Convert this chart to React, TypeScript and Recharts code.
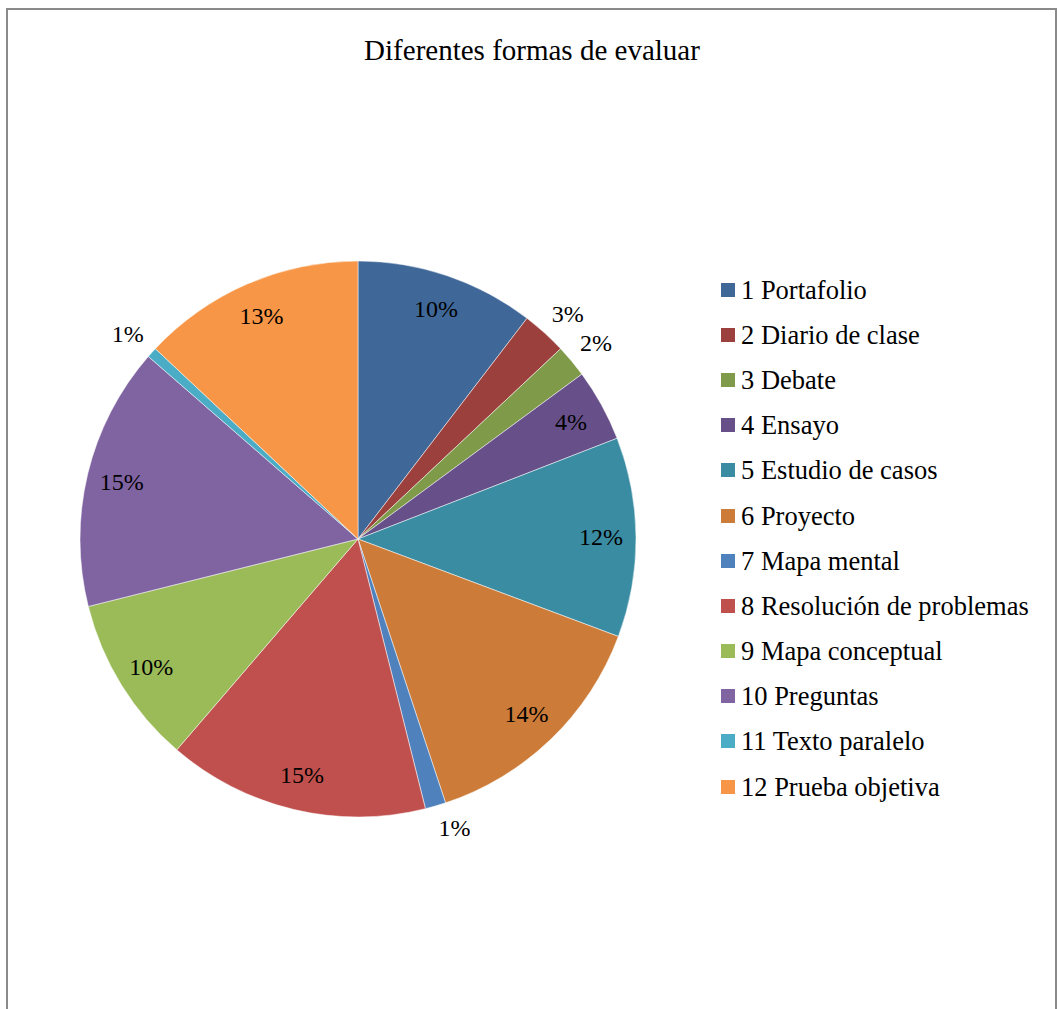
import React from 'react';
import { PieChart, Pie, Cell, Legend } from 'recharts';

const categories = [
  '1 Portafolio',
  '2 Diario de clase',
  '3 Debate',
  '4 Ensayo',
  '5 Estudio de casos',
  '6 Proyecto',
  '7 Mapa mental',
  '8 Resolución de problemas',
  '9 Mapa conceptual',
  '10 Preguntas',
  '11 Texto paralelo',
  '12 Prueba objetiva',
];

const shares = [10.4, 2.6, 1.9, 4.2, 11.6, 14.2, 1.2, 15.2, 9.8, 15.3, 0.6, 13.0];

const colors = [
  '#3f6899', '#9c403e', '#7f9a48', '#67508a', '#3a8ca2', '#cc7b38',
  '#4f81bd', '#c0504d', '#9bbb59', '#8064a2', '#4bacc6', '#f79646',
];

const title = 'Diferentes formas de evaluar';

const data = categories.map((name, i) => ({ name, value: shares[i] }));

const FONT = '"Liberation Serif", "Times New Roman", serif';
const RAD = Math.PI / 180;
const LABEL_SIZE = 24;

const renderLabel = (props: any) => {
  const { cx, cy, midAngle, outerRadius, percent } = props;
  const pct = Math.round(percent * 100);
  const text = `${pct}%`;
  const cos = Math.cos(-midAngle * RAD);
  const sin = Math.sin(-midAngle * RAD);
  let x: number;
  let y: number;
  if (percent * 100 < 3) {
    // outside: box corner nearest the pie sits just past the rim
    const r = outerRadius + 11;
    const w = LABEL_SIZE * (0.5 * String(pct).length + 0.833);
    x = cx + r * cos + Math.sign(cos) * w / 2;
    y = cy + r * sin + Math.sign(sin) * 11;
  } else {
    const r = outerRadius - 35;
    x = cx + r * cos;
    y = cy + r * sin;
  }
  return (
    <text
      x={x}
      y={y}
      fill="#000"
      textAnchor="middle"
      dominantBaseline="central"
      fontFamily={FONT}
      fontSize={LABEL_SIZE}
    >
      {text}
    </text>
  );
};

const LegendList = () => (
  <div style={{ fontFamily: FONT, fontSize: 26.5, color: '#000' }}>
    {categories.map((c, i) => (
      <div key={c} style={{ display: 'flex', alignItems: 'center', height: 45.2 }}>
        <span style={{ display: 'inline-block', width: 14, height: 14, background: colors[i], marginRight: 6 }} />
        <span style={{ lineHeight: '28px', whiteSpace: 'nowrap' }}>{c}</span>
      </div>
    ))}
  </div>
);

export default function App() {
  return (
    <div style={{ position: 'absolute', left: 0, top: 0, width: 1057, height: 1009, background: '#fff', overflow: 'hidden' }}>
      <div
        style={{
          position: 'absolute',
          left: 6,
          top: 8,
          width: 1047,
          height: 1020,
          borderTop: '2px solid #8a8a8a',
          borderLeft: '2px solid #8a8a8a',
          borderRight: '2px solid #8a8a8a',
        }}
      />
      <div
        style={{
          position: 'absolute',
          left: 0,
          top: 31,
          width: 1064,
          textAlign: 'center',
          fontFamily: FONT,
          fontSize: 29,
          lineHeight: '38px',
          color: '#000',
        }}
      >
        {title}
      </div>
      <div style={{ position: 'absolute', left: 0, top: 0 }}>
        <PieChart width={1057} height={1009}>
          <Pie
            data={data}
            dataKey="value"
            nameKey="name"
            cx={353}
            cy={534}
            outerRadius={278}
            startAngle={90}
            endAngle={-270}
            stroke="#ffffff"
            strokeWidth={0.5}
            label={renderLabel}
            labelLine={false}
            isAnimationActive={false}
          >
            {data.map((d, i) => (
              <Cell key={d.name} fill={colors[i]} />
            ))}
          </Pie>
          <Legend
            layout="vertical"
            content={() => <LegendList />}
            wrapperStyle={{ position: 'absolute', left: 721, top: 267, width: 334 }}
          />
        </PieChart>
      </div>
    </div>
  );
}
